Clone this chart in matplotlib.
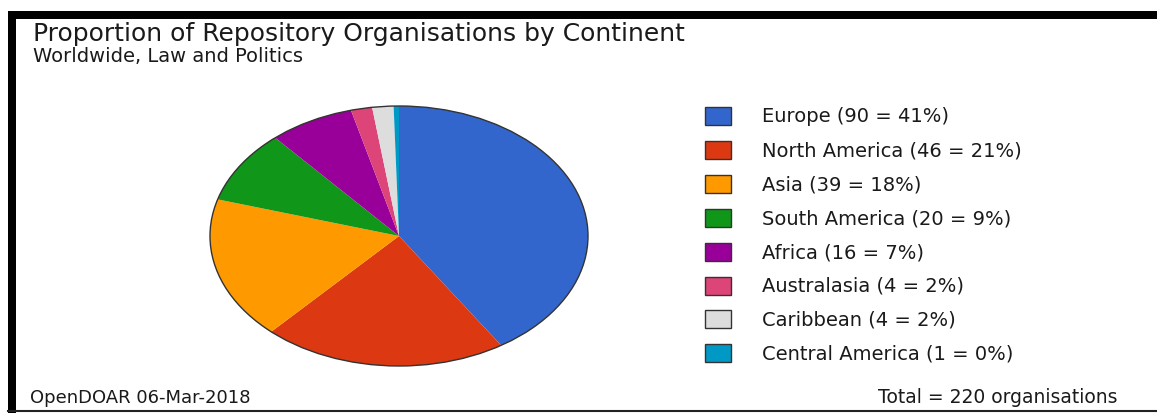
import matplotlib
matplotlib.use("Agg")
import matplotlib.pyplot as plt
from matplotlib.patches import Ellipse, Rectangle
from matplotlib.lines import Line2D

plt.rcParams['font.family'] = ['DejaVu Sans']

# data
continents = ["Europe", "North America", "Asia", "South America", "Africa",
              "Australasia", "Caribbean", "Central America"]
counts = [90, 46, 39, 20, 16, 4, 4, 1]
percents = [41, 21, 18, 9, 7, 2, 2, 0]
colors = ["#3366CC", "#DC3912", "#FF9900", "#109618", "#990099",
          "#DD4477", "#DDDDDD", "#0099C6"]

title = "Proportion of Repository Organisations by Continent"
subtitle = "Worldwide, Law and Politics"
footer_left = "OpenDOAR 06-Mar-2018"
footer_right = f"Total = {sum(counts)} organisations"

W, H = 1157, 414
fig = plt.figure(figsize=(W / 100, H / 100), dpi=100)
fig.patch.set_facecolor("white")


def fx(px):
    return px / W


def fy(py):
    return 1 - py / H


# frame: thick top and left band, thin bottom line
fig.add_artist(Rectangle((fx(8), fy(20)), fx(W - 8), fy(12) - fy(20),
                         transform=fig.transFigure, color="black", lw=0))
fig.add_artist(Rectangle((fx(8), fy(414)), fx(8), fy(12) - fy(414),
                         transform=fig.transFigure, color="black", lw=0))
fig.add_artist(Line2D([fx(8), 1], [fy(411.5), fy(411.5)],
                      transform=fig.transFigure, color="#222222", lw=1.5))

# titles
fig.text(fx(33), fy(34), title, fontsize=18, color="#1a1a1a",
         ha="left", va="center")
fig.text(fx(33), fy(57), subtitle, fontsize=14, color="#1a1a1a",
         ha="left", va="center")

# pie (stretched to an ellipse)
ax = fig.add_axes([fx(210), fy(367), fx(588) - fx(210), fy(107) - fy(367)])
ax.pie(counts, colors=colors, startangle=90, counterclock=False, radius=1,
       wedgeprops=dict(linewidth=0))
ax.set_aspect("auto")
ax.set_xlim(-1.0, 1.0)
ax.set_ylim(-1.0, 1.0)
ax.axis("off")
ax.add_patch(Ellipse((0, 0), 2, 2, fill=False, edgecolor="#333333",
                     linewidth=1.0, clip_on=False))

# legend
row0, step = 117, 33.9
for i, (name, n, p, c) in enumerate(zip(continents, counts, percents, colors)):
    yc = row0 + i * step
    fig.add_artist(Rectangle((fx(705), fy(yc + 9)), fx(26), fy(yc - 9) - fy(yc + 9),
                             transform=fig.transFigure, facecolor=c,
                             edgecolor="#333333", lw=1.0))
    fig.text(fx(762), fy(yc), f"{name} ({n} = {p}%)", fontsize=14,
             color="#1a1a1a", ha="left", va="center")

# footer
fig.text(fx(30), fy(398), footer_left, fontsize=13, color="#1a1a1a",
         ha="left", va="center")
fig.text(fx(1118), fy(398), footer_right, fontsize=13.5, color="#1a1a1a",
         ha="right", va="center")

fig.savefig("out.png", dpi=100)
